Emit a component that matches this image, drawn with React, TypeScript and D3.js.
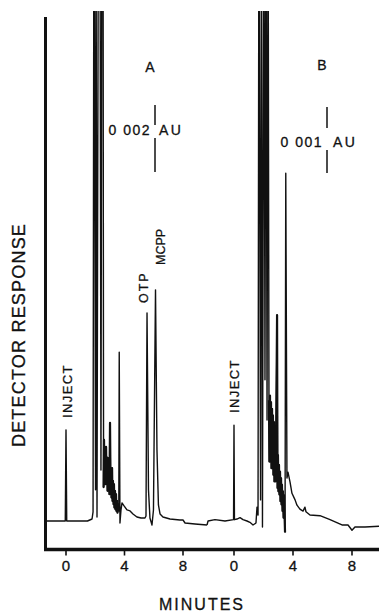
import React from 'react';
import * as d3 from 'd3';

// chromatogram A: [minutes after injection, detector response in mAU]
const runA: [number, number][] = [
  [-1.44, 0], [-0.05, 0], [0, 2.72], [0.05, 0], [1.47, 0], [1.78, 0.06], [1.85, 0.27],
  [1.91, 20], [2.02, 0.93], [2.05, 20], [2.12, 0.12], [2.22, 20], [2.32, 20], [2.39, 1.52],
  [2.46, 20], [2.53, 20], [2.57, 1.0], [2.6, 2.42], [2.63, 1.3], [2.67, 2.0], [2.7, 1.1],
  [2.74, 2.21], [2.77, 1.2], [2.8, 1.9], [2.84, 0.9], [2.87, 1.88], [2.9, 1.0], [2.94, 1.6],
  [2.97, 0.8], [3.01, 2.93], [3.05, 0.9], [3.08, 1.4], [3.11, 0.7], [3.15, 1.58], [3.18, 0.6],
  [3.21, 1.2], [3.25, 0.5], [3.28, 1.1], [3.31, 0.4], [3.35, 0.9], [3.38, 0.35], [3.42, 0.8],
  [3.45, 0.3], [3.49, 0.6], [3.52, 0.25], [3.56, 0.5], [3.61, 0.3],
  [3.64, 5.04], [3.69, -0.06], [3.76, 0.33], [3.83, 0.54], [3.97, 0.45], [4.17, 0.33],
  [4.38, 0.3], [4.58, 0.21], [4.85, 0.12], [5.13, 0.09], [5.4, 0.09], [5.47, 0.15],
  [5.54, 6.21], [5.64, 0.93], [5.74, 0.09], [5.88, -0.12], [5.98, 0.33], [6.12, 6.9],
  [6.22, 2.12], [6.32, 0.48], [6.43, 0.21], [6.63, 0.12], [7.11, 0.06], [7.79, 0.03],
  [8.0, 0.03], [8.14, -0.06], [8.82, -0.09], [9.64, -0.12],
];

// chromatogram B
const runB: [number, number][] = [
  [-1.83, -0.06], [-1.76, 0], [-1.29, 0.02], [-0.61, 0], [-0.03, 0.02], [0, 1.45], [0.03, 0.02],
  [0.2, 0.03], [0.41, 0.05], [0.61, 0.02], [0.88, 0], [1.08, -0.02], [1.29, -0.06], [1.49, -0.03],
  [1.56, 0.21], [1.63, 0.09], [1.69, 10], [1.8, 0.32], [1.86, 10], [1.93, -0.09], [2.03, 10],
  [2.1, 2.14], [2.17, 10], [2.24, 1.53], [2.31, 10], [2.37, 1.83], [2.4, 0.9], [2.44, 1.9],
  [2.47, 0.9], [2.51, 1.8], [2.54, 0.8], [2.58, 1.7], [2.61, 0.8], [2.64, 1.6], [2.67, 0.7],
  [2.71, 1.5], [2.74, 0.6], [2.78, 1.3], [2.81, 0.6], [2.85, 1.1], [2.92, 3.12], [2.95, 0.5],
  [2.98, 1.0], [3.01, 0.45], [3.05, 0.85], [3.08, 0.4], [3.12, 0.75], [3.15, 0.3], [3.19, 0.65],
  [3.22, 0.25], [3.25, 0.55], [3.29, 0.15], [3.32, 0.45], [3.36, 0.05], [3.39, 0.39],
  [3.46, -0.17], [3.51, 5.27], [3.59, 0.65], [3.66, 0.74], [3.8, 0.59],
  [3.93, 0.42], [4.14, 0.32], [4.27, 0.24], [4.47, 0.18], [4.68, 0.15], [4.81, 0.21],
  [4.88, 0.14], [5.15, 0.09], [5.83, 0.08], [6.51, 0.02], [7.32, -0.06], [7.73, -0.06],
  [8.0, -0.14], [8.2, -0.09], [8.88, -0.09], [9.83, -0.08],
];

// noisy tail of the solvent front (pen drawn heavier there)
const noiseA: [number, number] = [2.55, 3.62];
const noiseB: [number, number] = [2.35, 3.47];

const tickMinutes = [0, 4, 8];
const peakLabels = [
  { name: 'OTP', t: 5.54 },
  { name: 'MCPP', t: 6.12 },
];
const scaleBarA = { label: '0 002', unit: 'AU', mAU: 2 };
const scaleBarB = { label: '0 001', unit: 'AU', mAU: 1 };

const W = 379;
const H = 614;
const INK = '#111';
const FONT = '"Liberation Sans", Arial, Helvetica, sans-serif';

const within = (run: [number, number][], w: [number, number]) =>
  run.filter(d => d[0] >= w[0] && d[0] <= w[1]);

export default function App() {
  const xA = d3.scaleLinear().domain([0, 8]).range([66, 183]);
  const xB = d3.scaleLinear().domain([0, 8]).range([234, 352]);
  const yA = d3.scaleLinear().domain([0, 2]).range([521, 454]);
  const yB = d3.scaleLinear().domain([0, 1]).range([521, 455]);

  const lineA = d3.line<[number, number]>().x(d => xA(d[0])).y(d => yA(d[1]));
  const lineB = d3.line<[number, number]>().x(d => xB(d[0])).y(d => yB(d[1]));

  const axisY = 549.5;
  const barA = yA(0) - yA(scaleBarA.mAU);
  const barB = yB(0) - yB(scaleBarB.mAU);

  return (
    <svg
      width={W}
      height={H}
      style={{ position: 'absolute', left: 0, top: 0, background: '#fff' }}
      fontFamily={FONT}
    >
      <defs>
        <clipPath id="plot-clip">
          <rect x={0} y={11} width={W} height={540} />
        </clipPath>
      </defs>

      {/* traces */}
      <g clipPath="url(#plot-clip)" fill="none" stroke={INK} strokeLinejoin="round">
        <path d={lineA(runA) ?? ''} strokeWidth={1.4} />
        <path d={lineB(runB) ?? ''} strokeWidth={1.4} />
        <path d={lineA(within(runA, noiseA)) ?? ''} strokeWidth={2.2} />
        <path d={lineB(within(runB, noiseB)) ?? ''} strokeWidth={2.2} />
      </g>

      {/* axes */}
      <line x1={45.5} x2={45.5} y1={17} y2={axisY + 1.5} stroke={INK} strokeWidth={3} />
      <line x1={44} x2={W} y1={axisY} y2={axisY} stroke={INK} strokeWidth={3.5} />

      <g fill={INK} stroke={INK} strokeWidth={0.3}>
        {[xA, xB].map((x, k) =>
          tickMinutes.map(t => (
            <g key={`${k}-${t}`}>
              <line x1={x(t)} x2={x(t)} y1={axisY} y2={axisY + 6} strokeWidth={1.6} />
              <text x={x(t)} y={571} fontSize={15} textAnchor="middle">
                {t}
              </text>
            </g>
          ))
        )}

        <text x={202} y={610} fontSize={16} textAnchor="middle" letterSpacing={2}>
          MINUTES
        </text>
        <text transform="translate(25,335) rotate(-90)" fontSize={18} textAnchor="middle" letterSpacing={1.2}>
          DETECTOR RESPONSE
        </text>

        {/* inject marks */}
        <text transform={`translate(${xA(0) + 6},418) rotate(-90)`} fontSize={13} letterSpacing={1.4}>
          INJECT
        </text>
        <text transform={`translate(${xB(0) + 5},413) rotate(-90)`} fontSize={13} letterSpacing={1.4}>
          INJECT
        </text>

        {/* peak names */}
        <text transform={`translate(${xA(peakLabels[0].t) + 1},303) rotate(-90)`} fontSize={12.5} letterSpacing={2}>
          {peakLabels[0].name}
        </text>
        <text transform={`translate(${xA(peakLabels[1].t) + 9.5},265) rotate(-90)`} fontSize={12.5}>
          {peakLabels[1].name}
        </text>

        {/* panel A scale */}
        <text x={150} y={72} fontSize={14} textAnchor="middle">A</text>
        <text x={151} y={135} fontSize={14} textAnchor="end" letterSpacing={1.5}>
          {scaleBarA.label}
        </text>
        <text x={159} y={135} fontSize={14} letterSpacing={2.5}>
          {scaleBarA.unit}
        </text>

        {/* panel B scale */}
        <text x={322} y={70} fontSize={14} textAnchor="middle">B</text>
        <text x={323} y={147} fontSize={14} textAnchor="end" letterSpacing={1.5}>
          {scaleBarB.label}
        </text>
        <text x={333} y={147} fontSize={14} letterSpacing={2.5}>
          {scaleBarB.unit}
        </text>
      </g>

      <g stroke={INK} strokeWidth={1.5}>
        <line x1={155} x2={155} y1={105} y2={125} />
        <line x1={155} x2={155} y1={138} y2={105 + barA} />
        <line x1={327} x2={327} y1={107} y2={128} />
        <line x1={327} x2={327} y1={150} y2={107 + barB} />
      </g>
    </svg>
  );
}
